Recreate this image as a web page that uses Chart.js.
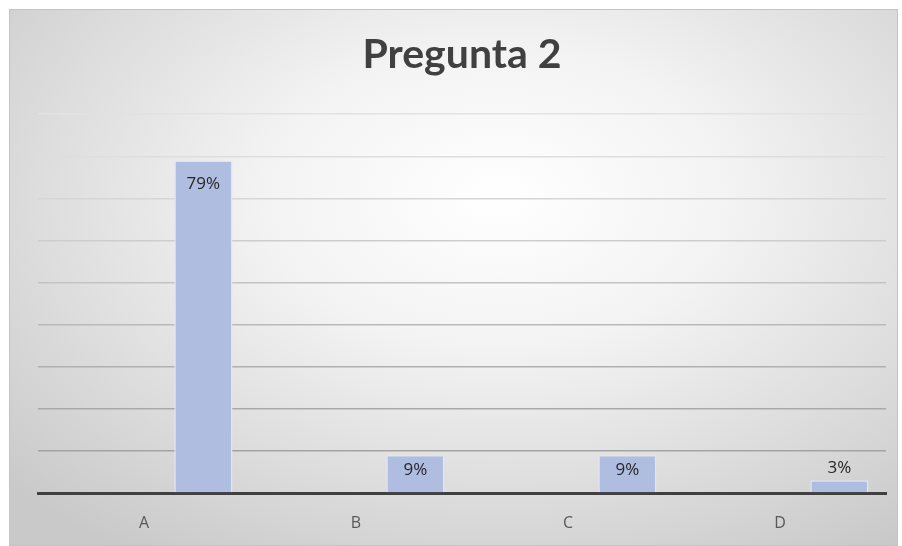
<!DOCTYPE html>
<html>
<head>
<meta charset="utf-8">
<script src="https://cdn.jsdelivr.net/npm/chart.js@4"></script>
<style>
  body { margin: 0; background: #ffffff; }
  #frame {
    position: absolute; left: 9px; top: 9px;
    width: 889px; height: 537px; box-sizing: border-box;
    border: 1px solid #c4c4c4;
    background: radial-gradient(ellipse 75% 80% at 55% 35%, #ffffff 0%, #f3f3f3 35%, #d9d9d9 75%, #c9c9c9 100%);
  }
  canvas { display: block; }
</style>
</head>
<body>
<div id="frame"><canvas id="chart" width="887" height="535"></canvas></div>
<script>
const categories = ['A', 'B', 'C', 'D'];
const percentages = [79, 9, 9, 3];
// las dos primeras series no tienen datos, solo ocupan su hueco en el grupo
const emptySeries = [null, null, null, null];
const chartTitle = 'Pregunta 2';

// valores dentro de la barra, o encima si la barra es muy baja
const barLabels = {
  id: 'barLabels',
  afterDatasetsDraw(chart) {
    const ctx = chart.ctx;
    const meta = chart.getDatasetMeta(2);
    ctx.save();
    ctx.font = '17px "Open Sans", sans-serif';
    ctx.fillStyle = '#262626';
    ctx.textAlign = 'center';
    ctx.textBaseline = 'middle';
    meta.data.forEach((bar, i) => {
      const text = percentages[i] + '%';
      const h = bar.base - bar.y;
      if (h > 26) {
        const mid = (bar.y + bar.base) / 2 - 4;
        ctx.fillText(text, bar.x, Math.min(bar.y + 24, mid));
      } else {
        ctx.fillText(text, bar.x, bar.y - 12);
      }
    });
    ctx.restore();
  }
};

const gridColors = ['#a0a0a0', '#a3a3a3', '#a9a9a9', '#b0b0b0', '#b9b9b9', '#c3c3c3', '#cdcdcd', '#d6d6d6', '#dedede', '#e2e2e2'];

const barStyle = {
  backgroundColor: '#afbee0',
  borderColor: '#dfe5f3',
  borderWidth: 1.5,
  categoryPercentage: 0.84,
  barPercentage: 0.98
};

new Chart(document.getElementById('chart'), {
  type: 'bar',
  data: {
    labels: categories,
    datasets: [
      { data: emptySeries, ...barStyle },
      { data: emptySeries, ...barStyle },
      { data: percentages, ...barStyle }
    ]
  },
  options: {
    responsive: false,
    animation: false,
    layout: { padding: { left: 28, right: 11, top: 0, bottom: 0 } },
    plugins: {
      legend: { display: false },
      tooltip: { enabled: false },
      title: {
        display: true,
        text: chartTitle,
        color: '#404040',
        font: { family: 'Lato, "Open Sans", sans-serif', size: 41, weight: 'bold', lineHeight: 1.2 },
        padding: { top: 20, bottom: 35 }
      }
    },
    scales: {
      x: {
        grid: { display: false, drawTicks: false },
        border: { display: true, color: '#404040', width: 3 },
        ticks: { color: '#595959', font: { family: '"Open Sans", sans-serif', size: 16 }, padding: 21 },
        afterFit(scale) { scale.height = 52; }
      },
      y: {
        min: 0,
        max: 90,
        ticks: { display: false, stepSize: 10 },
        border: { display: false },
        grid: {
          drawTicks: false,
          lineWidth: 1.5,
          color: ctx => gridColors[ctx.index] || '#a0a0a0'
        }
      }
    }
  },
  plugins: [barLabels]
});
</script>
</body>
</html>
